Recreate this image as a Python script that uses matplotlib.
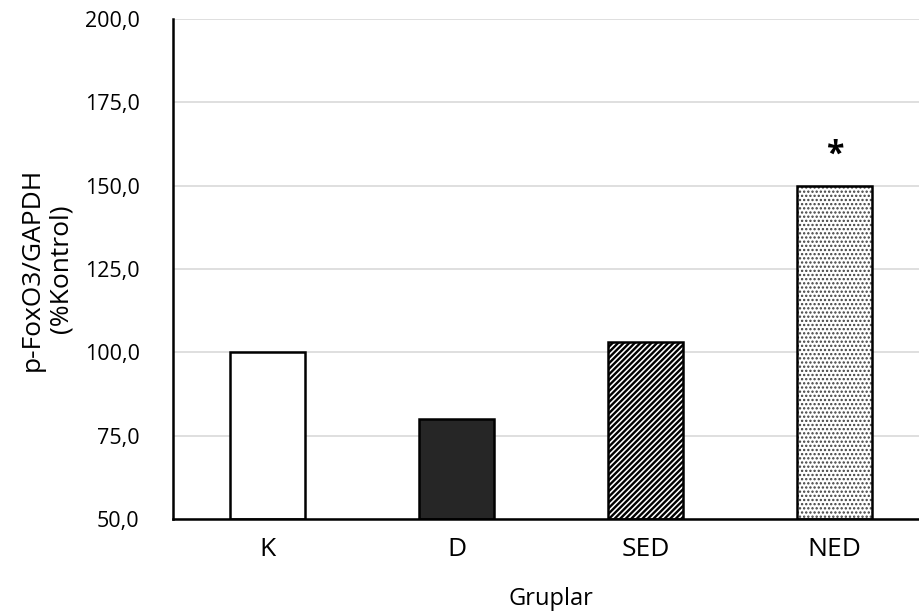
import matplotlib
matplotlib.use("Agg")
import matplotlib.pyplot as plt
from matplotlib.ticker import FuncFormatter

categories = ["K", "D", "SED", "NED"]
values = [100.0, 80.0, 103.0, 150.0]
yticks = [50, 75, 100, 125, 150, 175, 200]
facecolors = ["white", "#262626", "white", "white"]
hatches = [None, None, "//////", "...."]
hatchcolors = ["black", "black", "black", "#404040"]
hatchwidths = [1.0, 1.0, 1.7, 1.1]
annotations = ["", "", "", "*"]

plt.rcParams['font.family'] = ['Open Sans', 'DejaVu Sans']

fig = plt.figure(figsize=(9.2, 6.16), dpi=100)
ax = fig.add_axes([173/920, 1-519/616, (929-173)/920, 500/616])

x = list(range(len(categories)))
heights = [v - 50 for v in values]
bars = ax.bar(x, heights, bottom=50, width=0.40,
              color=facecolors, edgecolor="none", linewidth=0, zorder=3)
for b, h, hc, hw in zip(bars, hatches, hatchcolors, hatchwidths):
    if h:
        b.set_hatch(h)
        b.set_edgecolor(hc)
        if hasattr(b, "set_hatch_linewidth"):
            b.set_hatch_linewidth(hw)
        else:
            b._hatch_linewidth = hw
ax.bar(x, heights, bottom=50, width=0.40, fill=False,
       edgecolor="black", linewidth=1.8, zorder=4)
for xi, v, a in zip(x, values, annotations):
    if a:
        ax.text(xi, v + 9, a, ha="center", va="center", fontsize=23,
                fontweight="bold", zorder=5)

ax.set_xlim(-0.5, 3.5)
ax.set_ylim(50, 200)
ax.set_yticks(yticks)
ax.yaxis.set_major_formatter(FuncFormatter(lambda v, p: f"{v:.1f}".replace(".", ",")))
ax.set_xticks(x)
ax.set_xticklabels(categories)
ax.tick_params(axis="y", length=0, labelsize=15.5, pad=24)
ax.tick_params(axis="x", length=0, labelsize=19, pad=13)
ax.grid(axis="y", color="#d9d9d9", linewidth=1.2, zorder=0)
for s in ["top", "right"]:
    ax.spines[s].set_visible(False)
for s in ["left", "bottom"]:
    ax.spines[s].set_linewidth(1.8)
    ax.spines[s].set_zorder(6)
ax.set_ylabel("p-FoxO3/GAPDH\n(%Kontrol)", fontsize=19, labelpad=8, linespacing=1.2)
ax.set_xlabel("Gruplar", fontsize=17, labelpad=18)

fig.savefig("out.png", dpi=100)
